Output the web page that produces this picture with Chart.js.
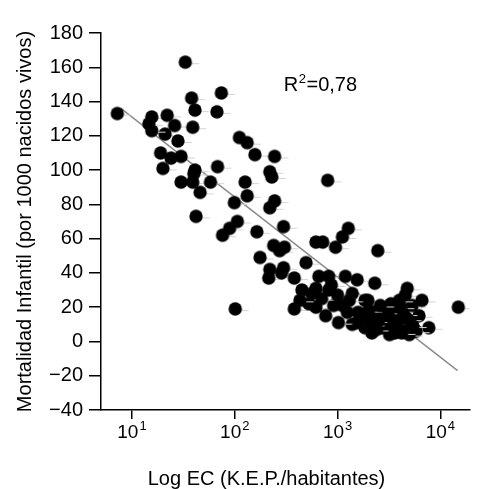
<!DOCTYPE html>
<html>
<head>
<meta charset="utf-8">
<script src="https://cdn.jsdelivr.net/npm/chart.js@4.4.0/dist/chart.umd.min.js"></script>
<style>
  body { margin: 0; background: #fff; }
  canvas { display: block; }
</style>
</head>
<body>
<canvas id="mortalityChart" width="477" height="489"></canvas>
<script>
// Consumo de energía (K.E.P./habitante) y mortalidad infantil por país
const ecValues = [
    7.2, 33, 74, 38, 41, 67, 15.6, 22, 26, 21, 15.6, 14.6, 39, 28, 19, 24, 30, 20, 41, 68,
    111, 132, 157, 244, 219, 30, 40, 39, 58, 46, 126, 132, 99, 42, 229, 244, 219, 106, 89, 76,
    164, 298, 239, 176, 219, 214, 285, 273, 800, 615, 717, 1114, 1271, 304, 955, 493, 298, 379, 657, 819,
    1189, 1549, 615, 819, 1388, 1847, 379, 527, 615, 914, 1114, 766, 1244, 1584, 2155, 1847, 2155, 1388, 2459, 2301,
    4757, 4550, 14930, 1972, 7710, 2570, 3200, 3990, 5310, 6190, 2743, 3573, 4652, 5795, 3200, 4970, 101, 1549, 1020, 6607,
    3990, 3700, 2900, 4300, 2400, 3300, 1700, 1900, 2100, 2500, 2700, 3100, 3500, 3800, 4100, 4400,
    4800, 5400, 2000, 2600, 3600, 4200, 450, 560, 700, 870, 1000, 430, 1300
];
const mortalityValues = [
    133, 163, 145, 142, 135, 134, 131, 132, 126, 121, 123, 127, 125, 117, 110, 107, 108, 101, 100, 102,
    119, 116, 109, 108, 99, 93, 98, 93, 93, 87, 93, 85, 81, 73, 96, 82, 78, 70, 66, 62,
    64, 67, 56, 49, 42, 37, 40, 53, 94, 58, 58, 61, 66, 55, 55, 46, 43, 37, 38, 38,
    38, 36, 31, 30, 28, 24, 19, 22, 20, 21, 21, 15, 17, 17, 17, 8, 5, 10, 53, 34,
    31, 27, 20, 24, 8, 18, 14, 18, 21, 15, 8, 7, 10, 6, 4, 4, 19, 11, 11, 24,
    24, 16, 11, 12, 7, 22, 14, 12, 10, 12, 16, 17, 12, 11, 20, 16,
    13, 9, 18, 21, 5, 5, 30, 28, 25, 33, 27, 24, 24
];

// Recta de regresión (extremos)
const fitEc = [7.8, 14700];
const fitMortality = [136, -17];

// Ejes
const xTickValues = [10, 100, 1000, 10000];
const xTickExponents = ['1', '2', '3', '4'];
const xTitle = 'Log EC (K.E.P./habitantes)';
const yTitle = 'Mortalidad Infantil (por 1000 nacidos vivos)';
const r2Text = ['R', '2', '=0,78'];
const r2Position = [300, 146];

const fontFamily = '"Liberation Sans", Arial, Helvetica, sans-serif';

// Punto negro con la pequeña marca gris a la derecha
function makeDot(radius, tail) {
    const c = document.createElement('canvas');
    c.width = Math.ceil(2 * (radius + tail) + 2);
    c.height = Math.ceil(2 * radius + 4);
    const g = c.getContext('2d');
    const cx = c.width / 2, cy = c.height / 2;
    g.strokeStyle = '#d4d4d4';
    g.lineWidth = 1;
    g.beginPath();
    g.moveTo(cx + radius - 1, cy + 1.5);
    g.lineTo(cx + radius + tail, cy + 1.5);
    g.stroke();
    g.fillStyle = '#000';
    g.beginPath();
    g.arc(cx, cy, radius, 0, Math.PI * 2);
    g.fill();
    return c;
}

const annotationsPlugin = {
    id: 'annotations',
    afterDraw(chart) {
        const { ctx, scales: { x, y } } = chart;
        ctx.save();
        ctx.fillStyle = '#000';
        ctx.textBaseline = 'alphabetic';

        // etiquetas del eje x: 10 con exponente
        xTickValues.forEach((v, i) => {
            const px = x.getPixelForValue(v);
            ctx.font = `19px ${fontFamily}`;
            const baseW = ctx.measureText('10').width;
            ctx.font = `13px ${fontFamily}`;
            const expW = ctx.measureText(xTickExponents[i]).width;
            const left = px - (baseW + expW + 1) / 2;
            ctx.font = `19px ${fontFamily}`;
            ctx.fillText('10', left, x.top + 28);
            ctx.font = `13px ${fontFamily}`;
            ctx.fillText(xTickExponents[i], left + baseW + 1, x.top + 20);
        });

        // título del eje x
        ctx.font = `20px ${fontFamily}`;
        ctx.textAlign = 'center';
        ctx.fillText(xTitle, (x.left + x.right) / 2 - 19, x.top + 75);

        // R²
        ctx.textAlign = 'left';
        let rx = x.getPixelForValue(r2Position[0]);
        const ry = y.getPixelForValue(r2Position[1]);
        ctx.font = `20px ${fontFamily}`;
        ctx.fillText(r2Text[0], rx, ry);
        rx += ctx.measureText(r2Text[0]).width + 0.5;
        ctx.font = `13px ${fontFamily}`;
        ctx.fillText(r2Text[1], rx, ry - 8);
        rx += ctx.measureText(r2Text[1]).width + 0.5;
        ctx.font = `20px ${fontFamily}`;
        ctx.fillText(r2Text[2], rx, ry);
        ctx.restore();
    }
};

const points = ecValues.map((v, i) => ({ x: v, y: mortalityValues[i] }));
const fitLine = fitEc.map((v, i) => ({ x: v, y: fitMortality[i] }));

const ctx = document.getElementById('mortalityChart').getContext('2d');
new Chart(ctx, {
    type: 'scatter',
    data: {
        datasets: [{
            label: 'Países',
            data: points,
            pointStyle: makeDot(6.7, 7),
            pointRadius: 7,
            backgroundColor: '#000',
            borderWidth: 0
        }, {
            type: 'line',
            label: 'Ajuste',
            data: fitLine,
            borderColor: '#8c8c8c',
            borderWidth: 1.5,
            pointRadius: 0,
            fill: false
        }]
    },
    options: {
        responsive: false,
        animation: false,
        layout: { padding: { top: 33, right: 0, bottom: 0, left: 0 } },
        plugins: {
            legend: { display: false },
            tooltip: { enabled: false }
        },
        scales: {
            x: {
                type: 'logarithmic',
                min: 5,
                max: 19400,
                afterBuildTicks: scale => {
                    scale.ticks = xTickValues.map(v => ({ value: v }));
                },
                afterFit: scale => { scale.height = 79; },
                ticks: { display: false },
                grid: { drawOnChartArea: false, drawTicks: true, tickLength: 9, color: '#000', lineWidth: 1.5 },
                border: { color: '#000', width: 1.5 }
            },
            y: {
                min: -40,
                max: 180,
                ticks: {
                    stepSize: 20,
                    color: '#000',
                    padding: 6,
                    font: { size: 20, family: fontFamily },
                    callback: v => String(v).replace('-', '\u2212')
                },
                afterFit: scale => { scale.width = 101; },
                grid: { drawOnChartArea: false, tickLength: 12, color: '#000', lineWidth: 1.5 },
                border: { color: '#000', width: 1.5 },
                title: {
                    display: true,
                    text: yTitle,
                    color: '#000',
                    font: { size: 20, family: fontFamily },
                    padding: { top: 13, bottom: 0 }
                }
            }
        }
    },
    plugins: [annotationsPlugin]
});
</script>
</body>
</html>
